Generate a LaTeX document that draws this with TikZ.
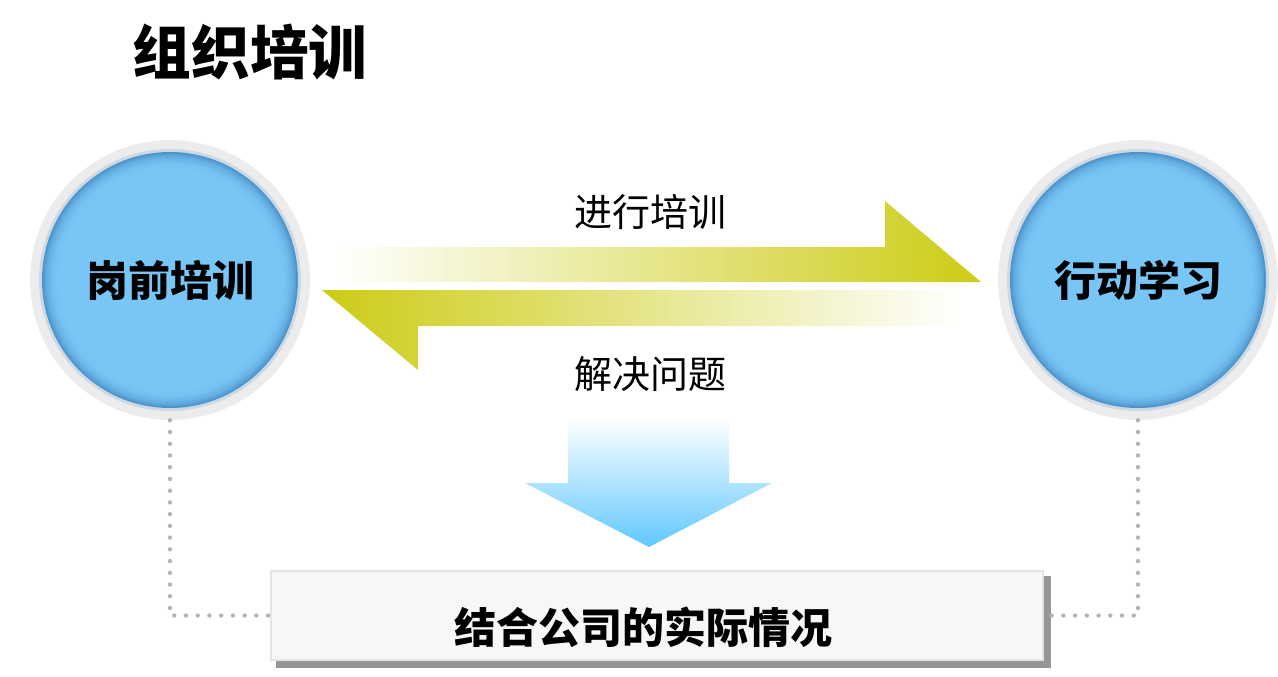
\documentclass[tikz,border=0pt]{standalone}
\usepackage{fontspec}
\setmainfont{Noto Sans CJK SC}
\definecolor{olivey}{RGB}{204,204,22}
\definecolor{skyb}{RGB}{96,200,255}
\definecolor{balla}{RGB}{120,198,246}
\definecolor{ballc}{RGB}{78,148,204}
\definecolor{ringg}{RGB}{236,236,236}
\definecolor{ringb}{RGB}{204,216,228}
\definecolor{dotg}{RGB}{180,180,180}
\definecolor{boxfill}{RGB}{247,247,247}
\definecolor{boxline}{RGB}{228,228,228}
\definecolor{shadowg}{RGB}{150,150,150}
\tikzset{
  outerring/.style={circle, fill=ringg, minimum size=280*0.75pt, inner sep=0pt},
  midring/.style={circle, fill=ringb, minimum size=262*0.75pt, inner sep=0pt},
  ball/.style={circle, minimum size=256*0.75pt, inner sep=0pt,
    font=\fontsize{31.5}{32}\selectfont\bfseries},
  label/.style={font=\fontsize{28.5}{29}\selectfont, inner sep=0pt},
  dotline/.style={dotg, line width=3.3pt, line cap=round, dash pattern=on 0pt off 8.8pt},
  boxstyle/.style={draw=boxline, line width=2.2pt, fill=boxfill, minimum width=772*0.75pt, minimum height=89*0.75pt, inner sep=0pt},
}
\newcommand\ballfill[1]{%
  \foreach \r/\p in {128/100,126.5/80,125/62,123.5/46,121.5/30,119/16,116/6,112/0}{%
    \fill[balla!\the\numexpr100-\p\relax!ballc] (#1) circle (\r);}%
}
\begin{document}
\begin{tikzpicture}[x=0.75pt,y=-0.75pt]
\useasboundingbox (0,0) rectangle (1278,676);
% title
\node[font=\fontsize{44}{44}\selectfont\bfseries, inner sep=0pt] (title) at (250,52) {组织培训};
% circles
\node[outerring] (Lo) at (170,280) {};
\node[midring] (Lm) at (170,280) {};
\ballfill{Lm.center}
\node[ball] (L) at (170,280) {岗前培训};
\node[outerring] (Ro) at (1138,280) {};
\node[midring] (Rm) at (1138,280) {};
\ballfill{Rm.center}
\node[ball] (R) at (1138,280) {行动学习};
% arrows
\shade[left color=white, right color=olivey] (335,247) -- (885,247) -- (885,201) -- (981,282) -- (335,282) -- cycle;
\shade[left color=olivey, right color=white] (322,290) -- (962,290) -- (962,326) -- (418,326) -- (418,370) -- cycle;
\node[label] (t1) at (650,212) {进行培训};
\node[label] (t2) at (650,374) {解决问题};
% down arrow
\shade[top color=white, bottom color=skyb] (568,418) -- (729,418) -- (729,483) -- (772,483) -- (649,547) -- (525,483) -- (568,483) -- cycle;
% box
\fill[shadowg] (276,576) rectangle (1051,668);
\node[boxstyle] (B) at (657,615.5) {};
\node[font=\fontsize{31.5}{32}\selectfont\bfseries, inner sep=0pt] (Bt) at (643,627) {结合公司的实际情况};
% dotted connectors
\draw[dotline] (Lo.south) |- (B.west);
\draw[dotline] (Ro.south) |- (B.east);
\end{tikzpicture}
\end{document}
